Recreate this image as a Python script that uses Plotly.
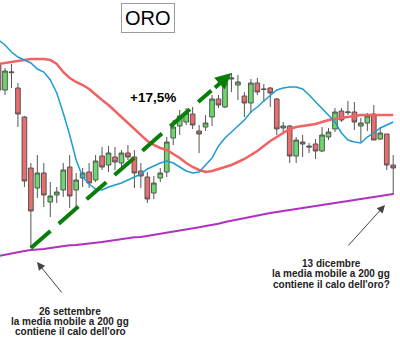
import plotly.graph_objects as go

# ---- data (gold, daily candles; index 0..61, 26 Sept = index 5, 13 Dec = index 61)
idx = list(range(62))
opens = [1810.5, 1773, 1799, 1776, 1732.5, 1656, 1626, 1648.5, 1605, 1615.5,
         1623, 1657.5, 1623, 1641, 1650, 1638, 1674, 1660.5, 1672.5, 1663.5,
         1678.5, 1672.5, 1651.5, 1642.5, 1618.5, 1641, 1650, 1701, 1719, 1725,
         1737, 1711.5, 1717.5, 1732.5, 1759.5, 1747.5, 1789.5, 1780.5, 1764, 1753.5,
         1783.5, 1774.5, 1776, 1759.5, 1716, 1719, 1674, 1695, 1689, 1692,
         1681.5, 1702.5, 1714.5, 1741.5, 1739, 1740, 1719, 1723.5, 1737, 1699.5,
         1707, 1660.5]
highs = [1815, 1806, 1812, 1783.5, 1734, 1663.5, 1675.5, 1663.5, 1635, 1627.5,
         1663.5, 1675.5, 1648.5, 1656, 1663.5, 1675.5, 1687.5, 1689, 1687.5, 1683,
         1690.5, 1683, 1663.5, 1650, 1644, 1656, 1702.5, 1728, 1743, 1746,
         1747.5, 1720.5, 1735.5, 1765.5, 1765.5, 1795.5, 1798.5, 1795.5, 1770, 1789.5,
         1791, 1782, 1777.5, 1761, 1725, 1720.5, 1702.5, 1705.5, 1693.5, 1699.5,
         1717.5, 1716, 1746, 1746, 1756.5, 1755, 1731, 1738.5, 1750.5, 1717.5,
         1707, 1675.5]
lows = [1765.5, 1765.5, 1776, 1717.5, 1627.5, 1536, 1611, 1597.5, 1582.5, 1603.5,
        1612.5, 1596, 1596, 1627.5, 1626, 1635, 1653, 1650, 1653, 1657.5,
        1668, 1626, 1626, 1603.5, 1609.5, 1635, 1642.5, 1690.5, 1705.5, 1720.5,
        1714.5, 1678.5, 1711.5, 1719, 1746, 1746, 1770, 1758, 1732.5, 1738.5,
        1765.5, 1755, 1747.5, 1705.5, 1708.5, 1663.5, 1663.5, 1672.5, 1678.5, 1669.5,
        1680, 1698, 1710, 1725, 1735.5, 1713, 1695, 1711.5, 1698, 1698,
        1653, 1615.5]
closes = [1773, 1801.5, 1800, 1737, 1636.5, 1591.5, 1648.5, 1615.5, 1614, 1620,
          1653, 1614, 1638, 1648.5, 1633.5, 1666.5, 1657.5, 1678.5, 1665, 1678.5,
          1672.5, 1648.5, 1644, 1609.5, 1633.5, 1648.5, 1695, 1717.5, 1734, 1738.5,
          1720.5, 1707, 1723.5, 1759.5, 1750.5, 1783.5, 1791, 1785, 1753.5, 1783.5,
          1770, 1774, 1768.5, 1714.5, 1719, 1674, 1698, 1692, 1687.5, 1681.5,
          1705.5, 1710, 1740, 1728, 1740, 1725, 1723.5, 1734, 1698, 1708.5,
          1660.5, 1656]
ma_short = [1848, 1840.5, 1830, 1822.5, 1818, 1813.5, 1804.5, 1800, 1788, 1768.5,
            1738.5, 1705.5, 1668, 1642.5, 1632, 1624.5, 1623, 1627.5, 1630.5, 1633.5,
            1638, 1642.5, 1647, 1654.5, 1659, 1663.5, 1666.5, 1663.5, 1657.5, 1651.5,
            1648.5, 1650, 1660.5, 1671, 1689, 1701, 1710, 1719, 1728, 1740,
            1747.5, 1756.5, 1765.5, 1773, 1776, 1777.5, 1777.5, 1774.5, 1765.5, 1755,
            1744.5, 1735.5, 1725, 1708.5, 1698, 1695, 1693.5, 1702.5, 1708.5, 1716,
            1720.5, 1725]
ma_mid = [1812, 1813.5, 1815, 1816.5, 1818, 1819.5, 1819.5, 1819.5, 1818, 1812,
          1800, 1791, 1785, 1780.5, 1774.5, 1765.5, 1758, 1750.5, 1741.5, 1732.5,
          1723.5, 1713, 1704, 1696.5, 1690.5, 1686, 1683, 1677, 1671, 1663.5,
          1657.5, 1653, 1650, 1651.5, 1654.5, 1657.5, 1660.5, 1665, 1669.5, 1675.5,
          1681.5, 1689, 1696.5, 1702.5, 1708.5, 1714.5, 1717.5, 1719, 1720.5, 1722,
          1725, 1728, 1729.5, 1731, 1732.5, 1734, 1735.5, 1735.5, 1735.5, 1735.5,
          1735.5, 1735.5]
ma_200 = [1524, 1526, 1528.5, 1530, 1531.5, 1533, 1533.5, 1534.5, 1536, 1537.5,
          1539, 1540, 1540.5, 1542, 1543.5, 1544, 1545, 1546.5, 1548, 1549.5,
          1551, 1552, 1552.5, 1554, 1555.5, 1557, 1558.5, 1560, 1562, 1563.5,
          1565, 1567, 1569, 1570.5, 1572.5, 1575, 1577, 1579.5, 1581, 1582.5,
          1584.5, 1587, 1588.5, 1590, 1591.5, 1593, 1594.5, 1596, 1597.5, 1599,
          1600.5, 1602, 1603.5, 1605, 1606.5, 1608, 1609.5, 1611, 1612.5, 1614,
          1615.5, 1617]

title_text = "ORO"
gain_text = "+17,5%"
note_left = ["26 settembre", "la media mobile a 200 gg", "contiene il calo dell'oro"]
note_right = ["13 dicembre", "la media mobile a 200 gg", "contiene il calo dell'oro?"]
low_idx = 5     # 26 settembre
peak_idx = 36

FONT = "Liberation Sans, Arial, sans-serif"

fig = go.Figure()
fig.add_trace(go.Candlestick(
    x=idx, open=opens, high=highs, low=lows, close=closes,
    increasing=dict(fillcolor="#6ad86a", line=dict(color="#555555", width=1)),
    decreasing=dict(fillcolor="#ea6c6c", line=dict(color="#555555", width=1)),
    whiskerwidth=0, showlegend=False))
fig.add_trace(go.Scatter(x=idx, y=ma_200, mode="lines",
                         line=dict(color="#b030c0", width=2), showlegend=False))
fig.add_trace(go.Scatter(x=idx, y=ma_mid, mode="lines",
                         line=dict(color="#f26262", width=2.5), showlegend=False))
fig.add_trace(go.Scatter(x=idx, y=ma_short, mode="lines",
                         line=dict(color="#1f9bd1", width=1.5), showlegend=False))

# dashed green trend arrow from the 26 Sept low to the peak
x0, y0 = idx[low_idx], lows[low_idx]
x1, y1 = idx[peak_idx], highs[peak_idx]
f = 0.9
fig.add_shape(type="line", x0=x0, y0=y0, x1=x0 + (x1 - x0) * f, y1=y0 + (y1 - y0) * f,
              xref="x", yref="y", line=dict(color="#0b7d0b", width=4, dash="26px,11px"))
fig.add_annotation(x=x1, y=y1, xref="x", yref="y", text="", showarrow=True,
                   ax=-18, ay=16, arrowhead=2, arrowwidth=4, arrowsize=0.8,
                   arrowcolor="#0b7d0b")

# title box
fig.add_annotation(x=0.369, y=0.9485, xref="paper", yref="paper", text=title_text,
                   showarrow=False, font=dict(family=FONT, size=20, color="black"),
                   bordercolor="#9a9a9a", borderwidth=1, borderpad=3, bgcolor="white",
                   xanchor="center", yanchor="middle")
fig.add_annotation(x=0.3825, y=0.712, xref="paper", yref="paper", text=gain_text,
                   showarrow=False, font=dict(family=FONT, size=13.5, color="black", weight="bold"),
                   xanchor="center", yanchor="middle")

# notes
for k, line in enumerate(note_left):
    fig.add_annotation(x=70 / 400, y=1 - (311 + 10 * k) / 340, xref="paper", yref="paper",
                       text=line, showarrow=False,
                       font=dict(family=FONT, size=10, color="#222", weight="bold"),
                       xanchor="center", yanchor="middle")
for k, line in enumerate(note_right):
    fig.add_annotation(x=331 / 400, y=1 - (263 + 10.5 * k) / 340, xref="paper", yref="paper",
                       text=line, showarrow=False,
                       font=dict(family=FONT, size=10, color="#222", weight="bold"),
                       xanchor="center", yanchor="middle")

# pointer arrows
fig.add_annotation(x=37 / 400, y=1 - 262 / 340, xref="paper", yref="paper", text="",
                   showarrow=True, ax=26, ay=32, arrowhead=2, arrowwidth=1, arrowsize=1.6,
                   arrowcolor="#444")
fig.add_annotation(x=385 / 400, y=1 - 205 / 340, xref="paper", yref="paper", text="",
                   showarrow=True, ax=-38, ay=42, arrowhead=2, arrowwidth=1, arrowsize=1.6,
                   arrowcolor="#444")

fig.update_layout(
    width=400, height=340, margin=dict(l=0, r=0, t=0, b=0),
    paper_bgcolor="white", plot_bgcolor="white", showlegend=False,
    boxgap=0.1, boxgroupgap=0.2,
    xaxis=dict(visible=False, range=[0.227, 62.05], rangeslider=dict(visible=False)),
    yaxis=dict(visible=False, range=[1398, 1908]),
)
fig.write_html("out.html")
